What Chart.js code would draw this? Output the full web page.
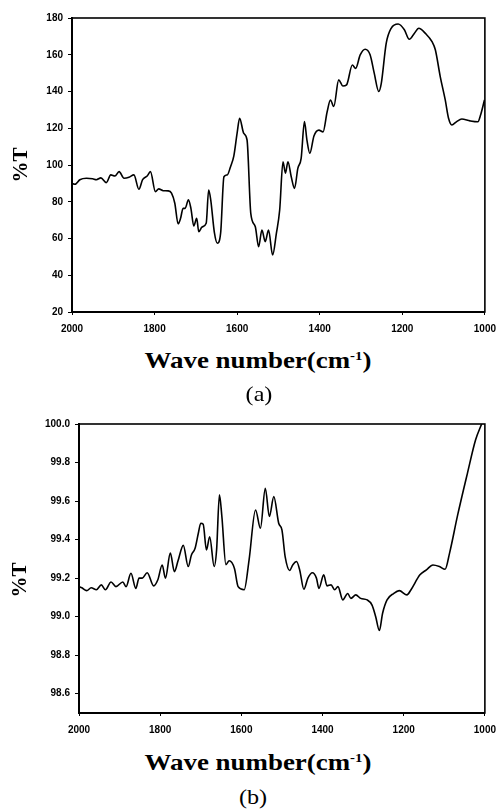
<!DOCTYPE html>
<html lang="es">
<head>
<meta charset="utf-8">
<title>Espectros IR (a) y (b)</title>
<script src="https://cdn.jsdelivr.net/npm/chart.js@4.4.1/dist/chart.umd.min.js"></script>
<style>
  html, body { margin: 0; padding: 0; background: #fff; }
  #hoja { position: relative; width: 504px; height: 812px; overflow: hidden; }
  .caja { position: absolute; left: 0; width: 504px; height: 345px; }
  .texto {
    position: absolute; white-space: nowrap; line-height: 1; color: #000;
    font-family: "Liberation Serif", "Times New Roman", serif;
  }
  .ejeX { font-weight: bold; font-size: 23px; transform: translate(-50%, -50%) scaleX(1.17); }
  .ejeY { font-weight: bold; font-size: 21px; transform: translate(-50%, -50%) rotate(-90deg); }
  .panel { font-size: 21px; transform: translate(-50%, -50%) scaleX(1.15); }
  sup { font-size: 0.55em; vertical-align: 0.6em; line-height: 0; }
</style>
</head>
<body>
<div id="hoja">
  <div class="caja" style="top:0"><canvas id="graficoA"></canvas></div>
  <div class="caja" style="top:400px"><canvas id="graficoB"></canvas></div>

  <div class="texto ejeY" style="left:20px; top:165px">%T</div>
  <div class="texto ejeX" style="left:258px; top:360px">Wave number(cm<sup>-1</sup>)</div>
  <div class="texto panel" style="left:259px; top:394px">(a)</div>

  <div class="texto ejeY" style="left:19px; top:580px">%T</div>
  <div class="texto ejeX" style="left:258px; top:762px">Wave number(cm<sup>-1</sup>)</div>
  <div class="texto panel" style="left:253px; top:797px">(b)</div>
</div>

<script>
//* marcas de los ejes
const marcasX = [2000, 1800, 1600, 1400, 1200, 1000];
const marcasA = [20, 40, 60, 80, 100, 120, 140, 160, 180];
const marcasB = [98.6, 98.8, 99.0, 99.2, 99.4, 99.6, 99.8, 100.0];

//* espectro (a): número de onda y %T
const ondaA = [2000, 1993, 1981, 1965, 1950, 1941, 1930, 1917, 1906, 1896, 1886, 1874, 1862, 1850,
  1838, 1829, 1818, 1810, 1798, 1790, 1779, 1767, 1759, 1751, 1743, 1737, 1731, 1726, 1718, 1712,
  1705, 1698, 1693, 1685, 1675, 1669, 1664, 1655, 1648, 1640, 1632, 1624, 1616, 1608, 1600, 1594,
  1584, 1576, 1567, 1556, 1548, 1540, 1532, 1524, 1514, 1505, 1497, 1489, 1483, 1477, 1469, 1461,
  1453, 1445, 1437, 1431, 1424, 1414, 1402, 1392, 1382, 1374, 1366, 1354, 1344, 1335, 1321, 1313,
  1302, 1290, 1278, 1268, 1257, 1251, 1239, 1227, 1210, 1195, 1183, 1171, 1160, 1144, 1128, 1120,
  1108, 1096, 1088, 1080, 1069, 1056, 1036, 1017, 1010, 1001];
const transA = [90, 89.5, 92, 92.8, 92.5, 92, 93, 90.4, 94.6, 94, 96.4, 92.8, 93.3, 94.6,
  86.8, 92, 94, 96.4, 85.5, 87, 86, 85.9, 84.7, 79.2, 68, 71, 76.4, 76.4, 81, 76.4,
  66.8, 71, 63.7, 66.3, 68.3, 86.4, 81, 63, 57.4, 63, 93.6, 94.6, 99.1, 105, 117.5, 125.4,
  117.2, 113.6, 73.7, 66.4, 55.5, 64.6, 58.3, 64.6, 51, 62.8, 75.5, 101.8, 95.5, 101.8, 93.6, 87.3,
  98.2, 103.6, 123.6, 113.6, 106.4, 115.8, 119, 118, 129, 135.4, 131.8, 146.3, 143, 143.6, 154.4, 152.6,
  159.9, 163, 160, 150, 140, 144.3, 166.2, 174.4, 176.7, 173.6, 168.4, 171.6, 174.4, 171.6, 167.1, 162.7,
  148, 135.4, 125.4, 121.8, 123.5, 125, 124, 123.5, 127.5, 135.4];

//* espectro (b)
const ondaB = [2000, 1993, 1981, 1970, 1957, 1945, 1935, 1921, 1909, 1892, 1884, 1872, 1860, 1852,
  1844, 1832, 1816, 1806, 1795, 1787, 1775, 1765, 1756, 1743, 1731, 1723, 1714, 1706, 1700, 1694,
  1686, 1678, 1667, 1661, 1654, 1648, 1638, 1630, 1617, 1608, 1593, 1581, 1565, 1553, 1541, 1531,
  1520, 1508, 1500, 1492, 1481, 1473, 1464, 1456, 1446, 1436, 1425, 1415, 1409, 1397, 1389, 1379,
  1370, 1362, 1350, 1338, 1330, 1318, 1306, 1290, 1278, 1269, 1260, 1252, 1241, 1225, 1211, 1192,
  1182, 1160, 1144, 1128, 1112, 1098, 1087, 1067, 1043, 1023, 1008];
const transB = [99.156, 99.15, 99.135, 99.15, 99.14, 99.165, 99.14, 99.18, 99.156, 99.18, 99.156, 99.225, 99.147, 99.2,
  99.2, 99.228, 99.16, 99.19, 99.268, 99.2, 99.33, 99.234, 99.29, 99.37, 99.26, 99.32, 99.355, 99.433, 99.485, 99.48,
  99.346, 99.415, 99.26, 99.346, 99.632, 99.52, 99.27, 99.29, 99.25, 99.156, 99.14, 99.294, 99.554, 99.459, 99.666, 99.52,
  99.623, 99.485, 99.45, 99.31, 99.24, 99.27, 99.286, 99.24, 99.142, 99.2, 99.228, 99.2, 99.147, 99.217, 99.16, 99.165,
  99.14, 99.156, 99.087, 99.12, 99.095, 99.113, 99.095, 99.087, 99.06, 99.0, 98.928, 99.018, 99.087, 99.12, 99.135, 99.113,
  99.14, 99.217, 99.243, 99.268, 99.26, 99.246, 99.33, 99.528, 99.744, 99.917, 100.0];

//* dibuja el marco completo alrededor del área del gráfico
const marco = {
  id: 'marco',
  afterDraw(chart) {
    const { ctx, chartArea: a } = chart;
    ctx.save();
    ctx.strokeStyle = '#000';
    ctx.lineWidth = 1.6;
    ctx.strokeRect(a.left, a.top, a.right - a.left, a.bottom - a.top);
    ctx.restore();
  }
};

function crearGrafico(idCanvas, onda, trans, cfg) {
  const lienzo = document.getElementById(idCanvas).getContext('2d');
  const fuente = { family: '"Liberation Sans", Arial, sans-serif', size: 10, weight: 'bold' };

  new Chart(lienzo, {
    type: 'line',
    data: {
      datasets: [{
        data: onda.map((x, i) => ({ x: x, y: trans[i] })),
        borderColor: '#000',
        borderWidth: 1.6,
        pointRadius: 0,
        fill: false,
        cubicInterpolationMode: 'monotone'
      }]
    },
    options: {
      responsive: true,
      maintainAspectRatio: false,
      animation: false,
      layout: { padding: { top: cfg.arriba, right: 13, left: 0, bottom: 0 } },
      plugins: { legend: { display: false }, tooltip: { enabled: false } },
      scales: {
        x: {
          type: 'linear',
          reverse: true,
          min: 1000,
          max: 2000,
          afterFit: s => { s.height = cfg.altoX; },
          afterBuildTicks: s => { s.ticks = marcasX.map(v => ({ value: v })); },
          border: { display: true, color: '#000', width: 2 },
          grid: { drawOnChartArea: false, color: '#000', tickLength: 3 },
          ticks: { color: '#000', font: fuente, padding: 8, maxRotation: 0, callback: v => String(v) }
        },
        y: {
          min: cfg.min,
          max: cfg.max,
          afterFit: s => { s.width = cfg.anchoY; },
          afterBuildTicks: s => { s.ticks = cfg.marcas.map(v => ({ value: v })); },
          border: { display: true, color: '#000', width: 2 },
          grid: { drawOnChartArea: false, color: '#000', tickLength: 4 },
          ticks: { color: '#000', font: fuente, padding: 5, callback: cfg.formato }
        }
      }
    },
    plugins: [marco]
  });
}

//* aquí se crean los dos espectros
crearGrafico('graficoA', ondaA, transA, {
  arriba: 18, altoX: 33, anchoY: 72, min: 20, max: 180, marcas: marcasA,
  formato: v => String(v)
});
crearGrafico('graficoB', ondaB, transB, {
  arriba: 24, altoX: 32, anchoY: 79, min: 98.5, max: 100, marcas: marcasB,
  formato: v => Number(v).toFixed(1)
});
</script>
</body>
</html>
